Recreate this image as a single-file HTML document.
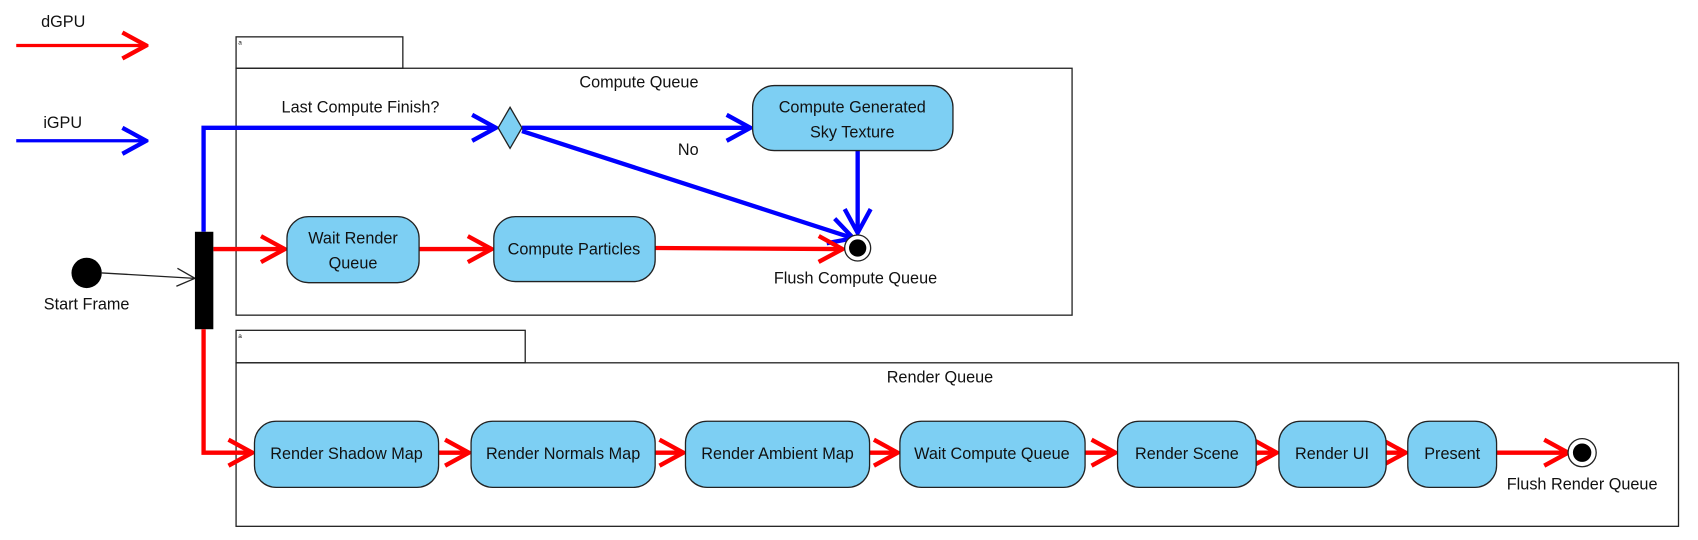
<!DOCTYPE html>
<html><head><meta charset="utf-8"><style>
html,body{margin:0;padding:0;background:#fff;}
svg{display:block;}
text{font-family:"Liberation Sans",sans-serif;font-size:15px;fill:#111;}
</style></head><body>
<svg width="1698" height="540" viewBox="0 0 1568 498.6" xmlns="http://www.w3.org/2000/svg">
<defs>
<marker id="r" viewBox="0 0 26 28" markerWidth="26" markerHeight="28" refX="24" refY="14" orient="auto" markerUnits="userSpaceOnUse"><path d="M2,2 L24,14 L2,26" fill="none" stroke="#f00" stroke-width="4"/></marker>
<marker id="b" viewBox="0 0 26 28" markerWidth="26" markerHeight="28" refX="24" refY="14" orient="auto" markerUnits="userSpaceOnUse"><path d="M2,2 L24,14 L2,26" fill="none" stroke="#00f" stroke-width="4"/></marker>
<marker id="k" viewBox="0 0 24 24" markerWidth="20" markerHeight="20" refX="22" refY="12" orient="auto" markerUnits="userSpaceOnUse"><path d="M2,2 L22,12 L2,22" fill="none" stroke="#222" stroke-width="1.5"/></marker>
</defs>
<text x="38" y="25">dGPU</text>
<line x1="15" y1="42" x2="135" y2="42" stroke="#f00" stroke-width="3" marker-end="url(#r)"/>
<text x="40" y="118">iGPU</text>
<line x1="15" y1="130" x2="135" y2="130" stroke="#00f" stroke-width="3" marker-end="url(#b)"/>
<rect x="218" y="34" width="154" height="29" fill="#fff" stroke="#222" stroke-width="1.2"/>
<text x="220" y="41" style="font-size:6px">a</text>
<rect x="218" y="63" width="772" height="228" fill="none" stroke="#222" stroke-width="1.2"/>
<text x="590" y="81" text-anchor="middle">Compute Queue</text>
<rect x="218" y="305" width="267" height="30" fill="#fff" stroke="#222" stroke-width="1.2"/>
<text x="220" y="312" style="font-size:6px">a</text>
<rect x="218" y="335" width="1332" height="151" fill="none" stroke="#222" stroke-width="1.2"/>
<text x="868" y="353" text-anchor="middle">Render Queue</text>
<circle cx="80" cy="252" r="14" fill="#000"/>
<text x="80" y="286" text-anchor="middle">Start Frame</text>
<line x1="94" y1="252" x2="180" y2="257" stroke="#222" stroke-width="1.2" marker-end="url(#k)"/>
<polyline points="188,214 188,118 458,118" fill="none" stroke="#00f" stroke-width="4" marker-end="url(#b)"/>
<text x="260" y="104">Last Compute Finish?</text>
<line x1="482" y1="118" x2="693" y2="118" stroke="#00f" stroke-width="4" marker-end="url(#b)"/>
<line x1="482" y1="121" x2="788" y2="220" stroke="#00f" stroke-width="4" marker-end="url(#b)"/>
<text x="626" y="143">No</text>
<line x1="792" y1="139" x2="792" y2="215" stroke="#00f" stroke-width="4" marker-end="url(#b)"/>
<polygon points="471,99 482,118 471,137 460,118" fill="#7dcff3" stroke="#222" stroke-width="1.2"/>
<rect x="695" y="79" width="185" height="60" rx="20" fill="#7dcff3" stroke="#222" stroke-width="1.2"/>
<text x="787" y="104" text-anchor="middle">Compute Generated</text>
<text x="787" y="127" text-anchor="middle">Sky Texture</text>
<line x1="197" y1="230" x2="263" y2="230" stroke="#f00" stroke-width="4" marker-end="url(#r)"/>
<line x1="387" y1="230" x2="454" y2="230" stroke="#f00" stroke-width="4" marker-end="url(#r)"/>
<line x1="605" y1="229" x2="778" y2="230" stroke="#f00" stroke-width="4" marker-end="url(#r)"/>
<rect x="265" y="200" width="122" height="61" rx="20" fill="#7dcff3" stroke="#222" stroke-width="1.2"/>
<text x="326" y="225" text-anchor="middle">Wait Render</text>
<text x="326" y="248" text-anchor="middle">Queue</text>
<rect x="456" y="200" width="149" height="60" rx="20" fill="#7dcff3" stroke="#222" stroke-width="1.2"/>
<text x="530" y="235" text-anchor="middle">Compute Particles</text>
<circle cx="792" cy="229" r="12" fill="#fff" stroke="#222" stroke-width="1.2"/>
<circle cx="792" cy="229" r="8" fill="#000"/>
<text x="790" y="262" text-anchor="middle">Flush Compute Queue</text>
<rect x="180" y="214" width="17" height="90" fill="#000"/>
<polyline points="188,304 188,418 233,418" fill="none" stroke="#f00" stroke-width="4" marker-end="url(#r)"/>
<line x1="405" y1="418" x2="433" y2="418" stroke="#f00" stroke-width="4" marker-end="url(#r)"/>
<line x1="605" y1="418" x2="631" y2="418" stroke="#f00" stroke-width="4" marker-end="url(#r)"/>
<line x1="803" y1="418" x2="829" y2="418" stroke="#f00" stroke-width="4" marker-end="url(#r)"/>
<line x1="1002" y1="418" x2="1030" y2="418" stroke="#f00" stroke-width="4" marker-end="url(#r)"/>
<line x1="1160" y1="418" x2="1179" y2="418" stroke="#f00" stroke-width="4" marker-end="url(#r)"/>
<line x1="1280" y1="418" x2="1298" y2="418" stroke="#f00" stroke-width="4" marker-end="url(#r)"/>
<line x1="1382" y1="418" x2="1448" y2="418" stroke="#f00" stroke-width="4" marker-end="url(#r)"/>
<g fill="#7dcff3" stroke="#222" stroke-width="1.2">
<rect x="235" y="389" width="170" height="61" rx="20"/>
<rect x="435" y="389" width="170" height="61" rx="20"/>
<rect x="633" y="389" width="170" height="61" rx="20"/>
<rect x="831" y="389" width="171" height="61" rx="20"/>
<rect x="1032" y="389" width="128" height="61" rx="20"/>
<rect x="1181" y="389" width="99" height="61" rx="20"/>
<rect x="1300" y="389" width="82" height="61" rx="20"/>
</g>
<text x="320" y="424" text-anchor="middle">Render Shadow Map</text>
<text x="520" y="424" text-anchor="middle">Render Normals Map</text>
<text x="718" y="424" text-anchor="middle">Render Ambient Map</text>
<text x="916" y="424" text-anchor="middle">Wait Compute Queue</text>
<text x="1096" y="424" text-anchor="middle">Render Scene</text>
<text x="1230" y="424" text-anchor="middle">Render UI</text>
<text x="1341" y="424" text-anchor="middle">Present</text>
<circle cx="1461" cy="418" r="13" fill="#fff" stroke="#222" stroke-width="1.2"/>
<circle cx="1461" cy="418" r="8.5" fill="#000"/>
<text x="1461" y="452" text-anchor="middle">Flush Render Queue</text>
</svg>
</body></html>
